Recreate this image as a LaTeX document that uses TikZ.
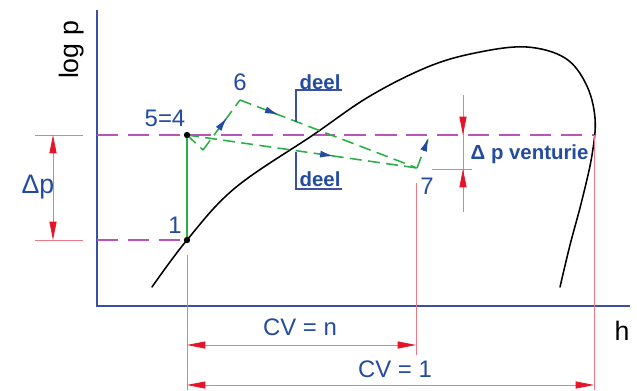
\documentclass[tikz,border=0pt]{standalone}
\usepackage{fontspec}
\setmainfont{Liberation Sans}
\usetikzlibrary{arrows.meta,decorations.markings}

\definecolor{axblue}{RGB}{60,80,160}
\definecolor{txtblue}{RGB}{35,75,160}
\definecolor{dimred}{RGB}{240,120,130}
\definecolor{tipred}{RGB}{230,20,40}
\definecolor{lilac}{RGB}{185,85,185}
\definecolor{grn}{RGB}{40,175,70}

\begin{document}
\begin{tikzpicture}[
  x=0.025cm, y=-0.025cm,
  axis/.style={draw=axblue, line width=1pt},
  isobar/.style={draw=lilac, line width=1pt, dash pattern=on 15pt off 7pt},
  dimline/.style={draw=dimred, line width=0.5pt},
  dimtip/.style={-{Triangle[length=13pt,width=5pt,color=tipred]}},
  dimboth/.style={{Triangle[length=13pt,width=5pt,color=tipred]}-{Triangle[length=13pt,width=5pt,color=tipred]}},
  proc/.style={draw=grn, line width=1.1pt, dash pattern=on 8.5pt off 4.5pt},
  flow/.style={postaction={decorate}, decoration={markings,
    mark=at position #1 with {\arrow[txtblue]{Latex[length=10pt,width=5pt]}}}},
  lbl/.style={text=txtblue, font=\fontsize{17}{17}\selectfont, inner sep=1pt},
  tag/.style={text=txtblue, font=\fontsize{14.5}{14.5}\selectfont\bfseries, inner sep=1pt},
  dot/.style={circle, fill=black, inner sep=0pt, minimum size=4.5pt}
]
\useasboundingbox (0,0) rectangle (637,390);

% state points
\coordinate (p54) at (187,135);
\coordinate (p1) at (187,240);
\coordinate (pv) at (203,150);
\coordinate (p6) at (240,100);
\coordinate (p7) at (417,168);
\coordinate (p7e) at (430,134);
\coordinate (sat) at (594,135);

% axes
\coordinate (org) at (97,306);
\draw[axis] (97,10) -- (org) -- (630,306);
\node[rotate=90, font=\fontsize{19}{19}\selectfont, inner sep=0pt] (ylab) at (72,50) {log p};
\node[font=\fontsize{19}{19}\selectfont, inner sep=0pt] (xlab) at (622,331) {h};

% isobars
\draw[isobar] (97,135) -- (sat);
\draw[isobar] (97,240) -- (p1);

% saturation curve
\draw[line width=1.1pt, line cap=round] plot[smooth, tension=0.6] coordinates {
  (152,287) (187,240) (235,188) (313,135) (370,96) (430,66) (480,52)
  (527,47) (565,58) (586,84) (595,118) (592,155) (582,200) (570,245) (560,287)};

% process lines
\draw[grn, line width=1.1pt] (p54) -- (p1);
\draw[proc, flow=0.65] (pv) -- (p6);
\draw[proc] (p54) -- (pv);
\draw[proc, flow=0.22] (p6) -- (p7);
\draw[proc, flow=0.64] (p54) -- (p7);
\draw[proc, flow=0.9] (p7) -- (p7e);

\node[dot] (d54) at (p54) {};
\node[dot] (d1) at (p1) {};

% point labels
\node[lbl] (l54) at (165,118) {5=4};
\node[lbl] (l1) at (175,225) {1};
\node[lbl] (l6) at (240,82) {6};
\node[lbl] (l7) at (427,186) {7};

% deel brackets
\node[tag, anchor=south west] (deelA) at (298,91) {deel};
\draw[axblue, line width=0.8pt] (296,122) -- (296,90) -- (342,90);
\node[tag, anchor=south west] (deelB) at (298,188) {deel};
\draw[axblue, line width=0.8pt] (296,152) -- (296,189) -- (342,189);

% delta p
\draw[dimline] (35,135) -- (83,135);
\draw[dimline] (35,240) -- (83,240);
\draw[dimline, dimboth] (53,240) -- (53,135);
\node[lbl, font=\fontsize{19}{19}\selectfont] (ldp) at (38,187) {Δp};

% delta p venturie
\draw[dimline] (432,169) -- (472,169);
\draw[dimline] (463,212) -- (463,95);
\draw[dimline, dimtip] (463,112) -- (463,135);
\draw[dimline, dimtip] (463,192) -- (463,169);
\node[tag, anchor=west] (ldpv) at (469,154) {Δ p venturie};

% CV dimensions
\draw[dimline] (187,255) -- (187,390);
\draw[dimline] (416,183) -- (416,355);
\draw[dimline] (sat) -- (594,390);
\draw[dimline, dimboth] (187,345) -- (416,345);
\draw[dimline, dimboth] (187,385) -- (594,385);
\node[lbl] (lcvn) at (300,327) {CV = n};
\node[lbl] (lcv1) at (395,369) {CV = 1};
\end{tikzpicture}
\end{document}
